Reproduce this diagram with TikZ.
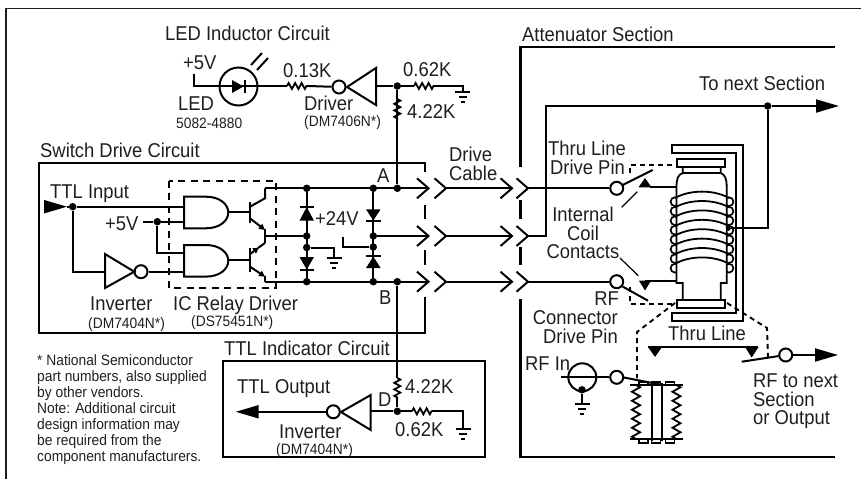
\documentclass[tikz,border=0pt]{standalone}
\usepackage{fontspec}
\setmainfont{Liberation Sans}[FakeStretch=0.92]
\usepackage{xcolor}
\definecolor{inkgray}{RGB}{30,30,30}
\usetikzlibrary{arrows.meta,decorations.pathmorphing}
\tikzset{
  bigt/.style={anchor=base west,inner sep=0,text=inkgray,font=\fontsize{20}{20}\selectfont},
  midt/.style={bigt,font=\fontsize{15}{16}\selectfont},
  wire/.style={line width=2pt,line join=miter},
  thinw/.style={line width=1.2pt},
  boxw/.style={line width=2.2pt},
  dashw/.style={line width=1.9pt,dash pattern=on 5pt off 4pt},
  res/.style={wire,line width=1.8pt,decorate,decoration={zigzag,segment length=6.5pt,amplitude=3pt}},
  padres/.style={wire,line width=1.8pt,decorate,decoration={zigzag,segment length=9pt,amplitude=4pt}},
  dot/.style={circle,fill=black,inner sep=0,minimum size=7.5pt},
  bub/.style={circle,draw,fill=white,line width=2pt,inner sep=0,minimum size=13pt},
  tip/.style={-{Triangle[length=23pt,width=13pt]}},
  gnd/.pic={
    \draw[wire] (-7.5,0) -- (7.5,0);
    \draw[wire] (-4,5) -- (4,5);
    \draw[wire] (-2,10) -- (2,10);
  },
  andg/.pic={
    \draw[wire] (0,-15.8) -- (22,-15.8) .. controls (36,-15.8) and (44.3,-8) .. (44.3,0)
      .. controls (44.3,8) and (36,15.8) .. (22,15.8) -- (0,15.8) -- cycle;
  },
}
\begin{document}
\begin{tikzpicture}[x=1pt,y=-1pt]
  \useasboundingbox (0,0) rectangle (861,479);
  \def\ya{188.3} \def\yb{236} \def\yc{281.7}
  % frame and section boxes
  \draw[line width=1.2pt,inkgray] (6,479) -- (6,8.5) -- (861,8.5);
  \draw[boxw] (835,47) -- (520.5,47) -- (520.5,167);
  \draw[boxw] (520.5,200) -- (520.5,219);
  \draw[boxw] (520.5,247) -- (520.5,265);
  \draw[boxw] (520.5,299) -- (520.5,457) -- (835,457);
  \draw[boxw] (425,172) -- (425,162.7) -- (39,162.7) -- (39,332.7) -- (425,332.7) -- (425,297);
  \draw[boxw] (425,205) -- (425,219);
  \draw[boxw] (425,250) -- (425,265);
  \draw[boxw] (223,361) rectangle (485,456.7);

  % LED inductor
  \node[bigt] (ledtitle) at (165,40.7) {LED Inductor Circuit};
  \node[bigt] (p5a) at (183,69.3) {+5V};
  \node[bigt] (ledtxt) at (178,110.7) {LED};
  \node[midt] (ledno) at (176,128) {5082-4880};
  \node[bigt] (r13txt) at (283,77) {0.13K};
  \node[bigt] (drvtxt) at (304,110.7) {Driver};
  \node[midt] (drvno) at (304,126.7) {(DM7406N*)};
  \node[bigt] (r62txt) at (403,76.7) {0.62K};
  \node[bigt] (r42txt) at (407,118.3) {4.22K};
  \node[dot] (jt) at (397.3,86) {};
  \node[bub] (drvbub) at (339,87) {};
  \node[draw,circle,line width=2pt,inner sep=0,minimum size=38pt] (ledc) at (238.5,86.5) {};
  \coordinate (l0) at (194,74);
  \coordinate (l1) at (194,86);
  \coordinate (r13a) at (287,86);
  \coordinate (r13b) at (308,86);
  \coordinate (r62a) at (414,86);
  \coordinate (r62b) at (435,86);
  \coordinate (g1) at (462.5,92);
  \draw[wire] (l0) -- (l1) -- (r13a);
  \draw[res] (r13a) -- (r13b);
  \draw[wire] (r13b) -- (drvbub);
  \draw[wire,fill=white] (376,68) -- (347,87) -- (376,105) -- cycle;
  \draw[wire] (376,86) -- (jt) -- (r62a);
  \draw[res] (r62a) -- (r62b);
  \draw[wire] (r62b) -| (g1);
  \pic at (g1) {gnd};
  \fill (232,80) -- (243.5,86.5) -- (232,93) -- cycle;
  \draw[wire] (245,80) -- (245,93);
  \draw[wire] (251,65) -- (262,53);
  \draw[wire] (257,70) -- (268,58);

  % switch drive
  \node[bigt] (swtitle) at (40,157.3) {Switch Drive Circuit};
  \node[bigt] (ttlin) at (50,198.3) {TTL Input};
  \node[bigt] (p5b) at (105,230.7) {+5V};
  \node[bigt] (invtxt) at (90,310.7) {Inverter};
  \node[midt] (invno) at (88,328.3) {(DM7404N*)};
  \node[bigt] (ictxt) at (173,310.7) {IC Relay Driver};
  \node[midt] (icno) at (191,326.7) {(DS75451N*)};
  \node[dot] (jin) at (72.7,206.7) {};
  \node[dot] (j5) at (157.3,221.7) {};
  \node[bub] (invbub) at (141,271.7) {};
  \coordinate (t0) at (44,206.7);
  \coordinate (t1) at (67,206.7);
  \draw[wire,tip] (t0) -- (t1);
  \draw[wire] (t1) -- (jin) -- (184,206.7);
  \draw[wire] (jin) |- (105,271.7);
  \draw[wire] (105,254) -- (134.3,271.7) -- (105,288) -- cycle;
  \draw[wire] (invbub) -- (184,271.7);
  \draw[wire] (143.3,221.7) -- (j5) -- (184,221.7);
  \draw[wire] (j5) |- (184,252.7);
  \pic at (184,212.5) {andg};
  \pic at (184,260.8) {andg};
  \draw[wire] (228.3,211.7) -- (250,211.7);
  \draw[wire] (228.3,260) -- (250,260);
  \draw[wire] (250,201.7) -- (250,223.3);
  \draw[wire] (250,248.3) -- (250,271.7);
  % transistors
  \draw[wire] (250,206.7) -- (265,198.3) -- (265,\ya);
  \draw[wire,-{Triangle[length=6pt,width=6pt]}] (250,218.3) -- (265,230);
  \draw[wire] (265,229) -- (265,243);
  \draw[wire,-{Triangle[length=6pt,width=6pt]}] (250,254) -- (259,247.5);
  \draw[wire] (258,248) -- (265,243);
  \draw[wire,-{Triangle[length=6pt,width=6pt]}] (250,266.7) -- (265,276.7);
  \draw[wire] (265,275.5) -- (265,\yc);
  \draw[line width=2pt,dash pattern=on 7pt off 5.5pt] (169.3,180.7) rectangle (276,288.3);
  % clamp diodes
  \node[dot] (d1) at (306.7,\ya) {};
  \node[dot] (d2) at (306.7,\yb) {};
  \node[dot] (d3) at (306.7,247.5) {};
  \node[dot] (d4) at (306.7,\yc) {};
  \node[dot] (d5) at (373.3,\ya) {};
  \node[dot] (d6) at (373.3,\yb) {};
  \node[dot] (d7) at (373.3,247) {};
  \node[dot] (d8) at (373.3,\yc) {};
  \node[dot] (ja) at (397.3,\ya) {};
  \node[dot] (jb) at (397.3,\yc) {};
  \draw[wire] (d1) -- (d4);
  \draw[wire] (d5) -- (d8);
  \draw[wire] (265,\yb) -- (d2);
  \coordinate (g2) at (334.3,258.3);
  \draw[wire] (d3) -| (g2);
  \pic at (g2) {gnd};
  \draw[wire] (343,236.7) |- (d7);
  \draw[wire] (299.5,207.3) -- (314,207.3);
  \fill (299.5,220.7) -- (306.7,207) -- (314,220.7) -- cycle;
  \fill (299.5,257) -- (306.7,269.5) -- (314,257) -- cycle;
  \draw[wire] (299.5,270) -- (314,270);
  \fill (366,209.3) -- (373.3,220.5) -- (380.6,209.3) -- cycle;
  \draw[wire] (366,221) -- (380.6,221);
  \draw[wire] (366,256.3) -- (380.6,256.3);
  \fill (366,268) -- (373.3,256.5) -- (380.6,268) -- cycle;
  \node[bigt] (v24) at (315,225) {+24V};
  \node[bigt] (atxt) at (377,182.3) {A};
  \node[bigt] (btxt) at (379,304.3) {B};
  \draw[wire] (jt) -- (ja);

  % cable with connectors
  \node[bigt] (drtxt) at (449,161.7) {Drive};
  \node[bigt] (catxt) at (449,180.7) {Cable};
  \foreach \wy in {\ya,\yb,\yc} {
    \draw[wire] (417,{\wy-10}) -- (428.5,\wy) -- (417,{\wy+10});
    \draw[wire] (434.5,{\wy-10}) -- (446,\wy) -- (434.5,{\wy+10});
    \draw[wire] (500.5,{\wy-10}) -- (512,\wy) -- (500.5,{\wy+10});
    \draw[wire] (516.5,{\wy-10}) -- (528,\wy) -- (516.5,{\wy+10});
    \draw[wire] (446,\wy) -- (512,\wy);
  }
  \draw[wire] (265,\ya) -- (428.5,\ya);
  \draw[wire] (d6) -- (428.5,\yb);
  \draw[wire] (265,\yc) -- (428.5,\yc);

  % TTL indicator
  \node[bigt] (indtitle) at (224,355) {TTL Indicator Circuit};
  \node[bigt] (ttlout) at (237,393.3) {TTL Output};
  \node[bigt] (r42b) at (405,393.3) {4.22K};
  \node[bigt] (dtxt) at (378,406) {D};
  \node[bigt] (r62c) at (395,436.7) {0.62K};
  \node[bigt] (inv2) at (279,438.3) {Inverter};
  \node[midt] (inv2no) at (276,454) {(DM7404N*)};
  \node[dot] (jd) at (397.3,411.3) {};
  \node[bub] (indbub) at (333.3,411.8) {};
  \coordinate (v1) at (397.3,378);
  \coordinate (v2) at (397.3,398);
  \coordinate (r3a) at (412,411.3);
  \coordinate (r3b) at (432,411.3);
  \coordinate (g3) at (463,429);
  \draw[wire] (jb) -- (v1);
  \draw[res] (v1) -- (v2);
  \draw[wire] (v2) -- (jd);
  \draw[wire] (370.7,411.3) -- (jd) -- (r3a);
  \draw[res] (r3a) -- (r3b);
  \draw[wire] (r3b) -| (g3);
  \pic at (g3) {gnd};
  \draw[wire] (370.7,395) -- (341,412) -- (370.7,430) -- cycle;
  \coordinate (o1) at (235.7,411.8);
  \draw[wire,tip] (indbub) -- (o1);
  % upper pull-up
  \coordinate (v3) at (397.3,99);
  \coordinate (v4) at (397.3,120);
  \draw[wire] (jt) -- (v3);
  \draw[res] (v3) -- (v4);

  % footnote
  \node[midt,anchor=north west,align=left,font=\fontsize{15}{16}\selectfont] (note) at (37,354)
    {* National Semiconductor\\part numbers, also supplied\\by other vendors.\\Note: Additional circuit\\design information may\\be required from the\\component manufacturers.};

  % attenuator texts
  \node[bigt] (attitle) at (522,41.7) {Attenuator Section};
  \node[bigt] (nexttxt) at (699,90.7) {To next Section};
  \node[bigt] (thru1) at (548,155) {Thru Line};
  \node[bigt] (dp1) at (550,174.5) {Drive Pin};
  \node[bigt,anchor=base] (int1) at (583,221.7) {Internal};
  \node[bigt,anchor=base] (int2) at (583,240) {Coil};
  \node[bigt,anchor=base] (int3) at (583,258.3) {Contacts};
  \node[bigt,anchor=base east] (rf1) at (619,305) {RF};
  \node[bigt,anchor=base east] (rf2) at (618,324) {Connector};
  \node[bigt,anchor=base east] (rf3) at (618,343) {Drive Pin};
  \node[bigt] (thru2) at (668,340.7) {Thru Line};
  \node[bigt] (rfin) at (525,370) {RF In};
  \node[bigt] (rfo1) at (753,387.3) {RF to next};
  \node[bigt] (rfo2) at (753,406) {Section};
  \node[bigt] (rfo3) at (753,424.5) {or Output};

  % wires to the switches
  \node[bub] (s1) at (616.7,\ya) {};
  \node[bub] (s2) at (616.7,\yc) {};
  \node[dot] (jn) at (767.7,106) {};
  \node[dot,minimum size=5pt] (jc) at (728.3,228.3) {};
  \coordinate (n0) at (545.5,\yb);
  \coordinate (n1) at (545.5,106);
  \coordinate (n2) at (839,106);
  \draw[wire] (528,\ya) -- (s1);
  \draw[wire] (528,\yc) -- (s2);
  \draw[wire] (528,\yb) -- (n0) -- (n1) -- (jn);
  \draw[wire,tip] (jn) -- (n2);
  \draw[wire] (jn) |- (jc);

  % coil
  \foreach \i in {0,...,7} {
    \draw[line width=1.7pt] (675,{201.7+9.5*\i}) circle[radius=4.4];
    \draw[line width=1.7pt] (729,{201.7+9.5*\i}) circle[radius=4.4];
  }
  \draw[line width=1.8pt,fill=white] (682.7,167.3) -- (682.7,173) .. controls (678,175) and (676.5,178) .. (676.5,188)
    -- (676.5,283) -- (682.7,283) -- (682.7,300) -- (720.7,300) -- (720.7,283) -- (726.7,283) -- (726.7,188)
    .. controls (726.7,178) and (725,175) .. (720.7,173) -- (720.7,167.3);
  \draw[line width=1.8pt] (682.7,173) -- (720.7,173);
  \foreach \i in {0,...,7} {
    \draw[line width=1.8pt] (675,{198+9.4*\i}) .. controls (690,{189.5+9.4*\i}) and (714,{189.5+9.4*\i}) .. (729,{198+9.4*\i});
  }
  \draw[boxw] (672.3,153.3) -- (672.3,145) -- (743.3,145) -- (743.3,321) -- (672.3,321) -- (672.3,312.7) -- (736,312.7) -- (736,153.3) -- cycle;
  \draw[boxw] (677.3,159.3) rectangle (725,167.3);
  \draw[boxw] (677.3,300) rectangle (725,307.7);

  % contacts
  \fill (638.5,187.3) -- (645,178) -- (651.5,187.3) -- cycle;
  \draw[wire] (650,187.3) -- (676,187.3);
  \draw[wire] (622.5,185) -- (652.7,170);
  \fill (639,280.7) -- (645,290.5) -- (651,280.7) -- cycle;
  \draw[wire] (645,280.7) -- (676,280.7);
  \draw[wire] (622.5,286.5) -- (648,300.7);
  \draw[dashw] (630,173) -- (630,165) -- (676.7,165);
  \draw[dashw] (630,287) -- (630,304) -- (676.7,304);
  \draw[thinw] (621.7,207.3) -- (637.3,191.7);
  \draw[thinw] (620,258) -- (638.3,275.7);
  \draw[dashw] (675,303) -- (637,332) -- (637,378);
  \draw[dashw] (727,303) -- (767,328) -- (768,357);

  % thru line bar
  \coordinate (b1) at (648,347);
  \coordinate (b2) at (758,347);
  \draw[wire] (b1) -- (b2);
  \fill (648,347) -- (655,357) -- (662,347) -- cycle;
  \fill (745,347) -- (751.7,357.5) -- (758.5,347) -- cycle;

  % output switch
  \node[bub] (s3) at (785.7,355) {};
  \coordinate (o2) at (838,355);
  \draw[wire] (741.7,361.7) -- (s3);
  \draw[wire,tip] (s3) -- (o2);

  % RF in with pad
  \node[draw,circle,line width=2pt,inner sep=0,minimum size=28pt] (coax) at (582.3,377.3) {};
  \node[dot] (jcx) at (582,389.8) {};
  \node[bub] (s4) at (616.7,377.3) {};
  \coordinate (cx0) at (561,377.3);
  \coordinate (g4) at (582,404);
  \draw[wire] (cx0) -- (s4);
  \draw[wire] (jcx) -- (g4);
  \pic at (g4) {gnd};
  \draw[wire] (623,377.3) -- (660,384.5);
  \draw[wire] (630,385) -- (683,385);
  \draw[wire] (630,439.3) -- (683,439.3);
  \foreach \bx in {639,651.7,665.7} {
    \draw[line width=1.5pt] (\bx,382) rectangle ({\bx+9},385);
    \draw[line width=1.5pt] (\bx,439.3) rectangle ({\bx+9},443);
  }
  \draw[wire] (652.3,383) -- (652.3,441);
  \draw[wire] (661.7,383) -- (661.7,441);
  \draw[padres] (636,385) -- (636,439.3);
  \draw[padres] (676.5,385) -- (676.5,439.3);
\end{tikzpicture}
\end{document}
